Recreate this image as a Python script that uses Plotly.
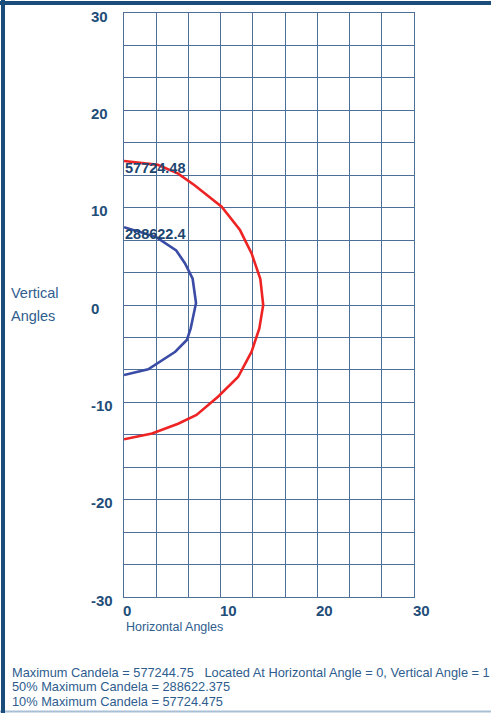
import plotly.graph_objects as go

# Isocandela contours (horizontal angle, vertical angle) in degrees
contour_10_h = [0, 3.5, 5.6, 7.3, 10.1, 12.0, 13.2, 14.1, 14.4, 14.0, 13.2, 11.8, 9.75, 7.5, 5.6, 2.9, 0]
contour_10_v = [14.8, 14.4, 13.5, 12.3, 10.1, 7.7, 5.3, 2.7, 0.0, -2.4, -4.8, -7.4, -9.4, -11.3, -12.2, -13.2, -13.8]
contour_10_label = "57724.48"

contour_50_h = [0, 3.3, 5.4, 6.3, 7.1, 7.45, 6.9, 6.5, 5.3, 2.5, 0]
contour_50_v = [8.0, 7.0, 5.6, 4.3, 2.7, 0.2, -2.4, -3.6, -4.8, -6.6, -7.2]
contour_50_label = "288622.4"

x_tick_vals = [0, 10, 20, 30]
y_tick_vals = [30, 20, 10, 0, -10, -20, -30]

summary_lines = [
    "Maximum Candela = 577244.75\u00a0\u00a0\u00a0Located At Horizontal Angle = 0, Vertical Angle = 1",
    "50% Maximum Candela = 288622.375",
    "10% Maximum Candela = 57724.475",
]

W, H = 491, 713
L, R, T, B = 124, 414, 13, 597

NAVY = "#1f4e79"
TEXT = "#2e5d8e"
GRID = "#4d6f98"
FONT = "Liberation Sans, Arial, sans-serif"

fig = go.Figure()
fig.add_trace(go.Scatter(x=contour_10_h, y=contour_10_v, mode="lines",
                         line=dict(color="#ee2424", width=2.6), hoverinfo="skip"))
fig.add_trace(go.Scatter(x=contour_50_h, y=contour_50_v, mode="lines",
                         line=dict(color="#3a4ca6", width=2.6), hoverinfo="skip"))


def px_x(p):
    return (p - L) / (R - L)


def px_y(p):
    return (B - p) / (B - T)


ann = []
# contour value labels at each contour's starting point
for hx, vy, txt in [(contour_10_h[0], contour_10_v[0], contour_10_label),
                    (contour_50_h[0], contour_50_v[0], contour_50_label)]:
    ann.append(dict(x=hx, y=vy, xref="x", yref="y", text=f"<b>{txt}</b>", showarrow=False,
                    xanchor="left", yanchor="middle", yshift=-7, xshift=-1,
                    font=dict(family=FONT, size=14.5, color="#1d4670")))

# vertical-angle labels, left aligned in the left gutter
for v in y_tick_vals:
    ann.append(dict(x=px_x(89), y=v, xref="paper", yref="y", text=f"<b>{v}</b>", showarrow=False,
                    xanchor="left", yanchor="middle", yshift=-3,
                    font=dict(family=FONT, size=15, color=NAVY)))
# horizontal-angle labels, left aligned at each tick
for v in x_tick_vals:
    ann.append(dict(x=v, y=0, xref="x", yref="paper", text=f"<b>{v}</b>", showarrow=False,
                    xanchor="left", yanchor="top", xshift=-3, yshift=-3,
                    font=dict(family=FONT, size=15, color=NAVY)))

ann.append(dict(x=px_x(124), y=px_y(627), xref="paper", yref="paper", text="Horizontal Angles",
                showarrow=False, xanchor="left", yanchor="middle",
                font=dict(family=FONT, size=12.5, color=TEXT)))
ann.append(dict(x=px_x(9), y=px_y(293), xref="paper", yref="paper", text="Vertical",
                showarrow=False, xanchor="left", yanchor="middle",
                font=dict(family=FONT, size=14.5, color=TEXT)))
ann.append(dict(x=px_x(9), y=px_y(316), xref="paper", yref="paper", text="Angles",
                showarrow=False, xanchor="left", yanchor="middle",
                font=dict(family=FONT, size=14.5, color=TEXT)))
for i, line in enumerate(summary_lines):
    ann.append(dict(x=px_x(10), y=px_y(672 + 14.7 * i), xref="paper", yref="paper", text=line,
                    showarrow=False, xanchor="left", yanchor="middle",
                    font=dict(family=FONT, size=12.8, color=TEXT)))

shapes = [
    # page frame: left and top borders in navy, thin light rule at the bottom
    dict(type="line", xref="paper", yref="paper", x0=px_x(0), x1=px_x(W), y0=px_y(711.5), y1=px_y(711.5),
         line=dict(color="#a9bfd5", width=2)),
    dict(type="line", xref="paper", yref="paper", x0=px_x(3), x1=px_x(3), y0=px_y(0), y1=px_y(H),
         line=dict(color="#1b4d7b", width=4)),
    dict(type="line", xref="paper", yref="paper", x0=px_x(0), x1=px_x(W), y0=px_y(3), y1=px_y(3),
         line=dict(color="#1b4d7b", width=4)),
]

axis_common = dict(showticklabels=False, ticks="", showgrid=True, gridcolor=GRID, gridwidth=1.4,
                   zeroline=False, showline=True, linecolor=GRID, linewidth=1.4, mirror=True,
                   fixedrange=True)

fig.update_layout(
    width=W, height=H,
    margin=dict(l=L, r=W - R, t=T, b=H - B, pad=0),
    paper_bgcolor="white", plot_bgcolor="white",
    showlegend=False,
    xaxis=dict(range=[0, 30], tick0=0, dtick=10 / 3, **axis_common),
    yaxis=dict(range=[-30, 30], tick0=-30, dtick=10 / 3, **axis_common),
    annotations=ann,
    shapes=shapes,
)

fig.write_html("out.html", config={"displayModeBar": False})
